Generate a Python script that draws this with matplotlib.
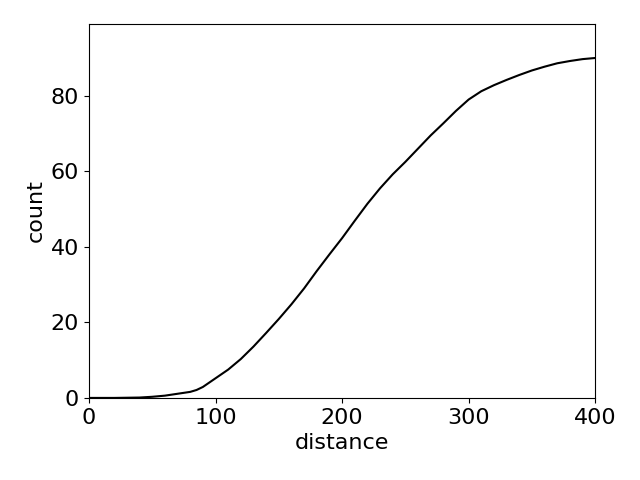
import numpy as np
import matplotlib
matplotlib.use("Agg")
import matplotlib.pyplot as plt

# cumulative count vs distance
distance = [0, 10, 20, 30, 40, 50, 60, 70, 80, 85, 90, 100, 110, 120, 130, 140,
            150, 160, 170, 180, 190, 200, 210, 220, 230, 240, 250, 260, 270,
            280, 290, 300, 310, 320, 330, 340, 350, 360, 370, 380, 390, 400]
count = [0, 0, 0, 0.05, 0.1, 0.3, 0.6, 1.1, 1.6, 2.1, 2.9, 5.2, 7.5, 10.3,
         13.6, 17.2, 20.9, 24.8, 29.0, 33.6, 38.0, 42.3, 46.9, 51.4, 55.5,
         59.2, 62.5, 66.0, 69.5, 72.7, 76.0, 79.0, 81.2, 82.8, 84.2, 85.5,
         86.7, 87.7, 88.6, 89.2, 89.7, 90.0]

plt.rcParams["font.size"] = 16
fig, ax = plt.subplots(figsize=(6.4, 4.8), dpi=100)
ax.plot(distance, count, color="black", linewidth=1.5)
ax.set_xlim(0, 400)
ax.set_ylim(0, max(count) * 1.1)
ax.set_xlabel("distance")
ax.set_ylabel("count")
fig.subplots_adjust(left=0.139, right=0.93, top=0.95, bottom=0.171)
fig.savefig("out.png")
